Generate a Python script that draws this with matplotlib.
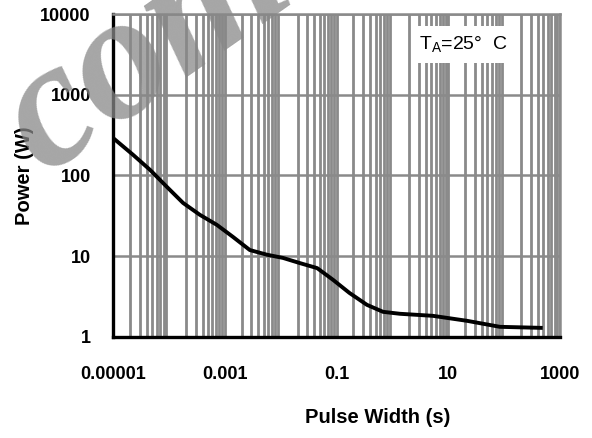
import matplotlib
matplotlib.use('Agg')
import matplotlib.pyplot as plt
import matplotlib.ticker as mticker
import numpy as np

# значения
pulse_width = [1e-5, 2.28e-5, 4.6e-5, 9.2e-5, 1.79e-4, 3.6e-4, 7.2e-4, 1.4e-3,
               2.8e-3, 5.7e-3, 0.011, 0.022, 0.045, 0.086, 0.17, 0.35, 0.68,
               1.36, 5.3, 21.5, 84, 490]
power = [291, 180, 117, 72, 45.6, 32.4, 24.4, 17.3, 11.9, 10.4, 9.5, 8.2,
         7.1, 5.1, 3.5, 2.49, 2.04, 1.93, 1.82, 1.58, 1.33, 1.29]

x_ticks = [1e-5, 1e-3, 1e-1, 10, 1000]
x_tick_labels = ['0.00001', '0.001', '0.1', '10', '1000']
y_ticks = [1, 10, 100, 1000, 10000]
y_tick_labels = ['1', '10', '100', '1000', '10000']

plt.rcParams['font.family'] = ['Liberation Sans', 'DejaVu Sans']

fig = plt.figure(figsize=(5.92, 4.38), dpi=100)
ax = fig.add_axes([0.191, 0.231, 0.755, 0.737])

ax.set_xscale('log')
ax.set_yscale('log')
ax.set_xlim(1e-5, 1000)
ax.set_ylim(1, 10000)

# сетка
grid_color = '#8a8a8a'
ax.xaxis.set_minor_locator(mticker.LogLocator(base=10, subs=np.arange(2, 10), numticks=50))
ax.xaxis.set_major_locator(mticker.FixedLocator(x_ticks))
ax.yaxis.set_major_locator(mticker.FixedLocator(y_ticks))
ax.yaxis.set_minor_locator(mticker.NullLocator())
ax.grid(True, which='major', axis='y', color=grid_color, linewidth=1.8)
ax.grid(True, which='both', axis='x', color=grid_color, linewidth=2.0)
ax.xaxis.set_minor_formatter(mticker.NullFormatter())

ax.set_xticklabels(x_tick_labels)
ax.set_yticklabels(y_tick_labels)
ax.tick_params(which='both', length=0, labelsize=13)
for lbl in ax.get_xticklabels() + ax.get_yticklabels():
    lbl.set_fontweight('bold')
ax.tick_params(axis='x', pad=21)
ax.tick_params(axis='y', pad=16)

ax.plot(pulse_width, power, color='black', linewidth=2.8, zorder=5,
        solid_capstyle='butt', solid_joinstyle='round')

ax.spines['left'].set_linewidth(2.4)
ax.spines['bottom'].set_linewidth(2.4)
for side in ['top', 'right']:
    ax.spines[side].set_color(grid_color)
    ax.spines[side].set_linewidth(1.8)

ax.text(0.685, 0.905, r'T$_\mathregular{A}$=25°  C', transform=ax.transAxes,
        fontsize=14, ha='left', va='center', zorder=6,
        bbox=dict(facecolor='white', edgecolor='none', pad=6))

fig.text(0.638, 0.025, 'Pulse Width (s)', ha='center', va='bottom',
         fontsize=14.5, fontweight='bold')
fig.text(0.042, 0.6, 'Power (W)', ha='center', va='center', rotation=90,
         fontsize=14.5, fontweight='bold')

# водяной знак
fig.text(0.247, 0.885, 'com', ha='center', va='center', rotation=35,
         fontsize=130, fontstyle='italic', fontweight='bold',
         family='Liberation Serif', color='#888888', alpha=0.75, zorder=10)

plt.savefig('out.png')
plt.close()
